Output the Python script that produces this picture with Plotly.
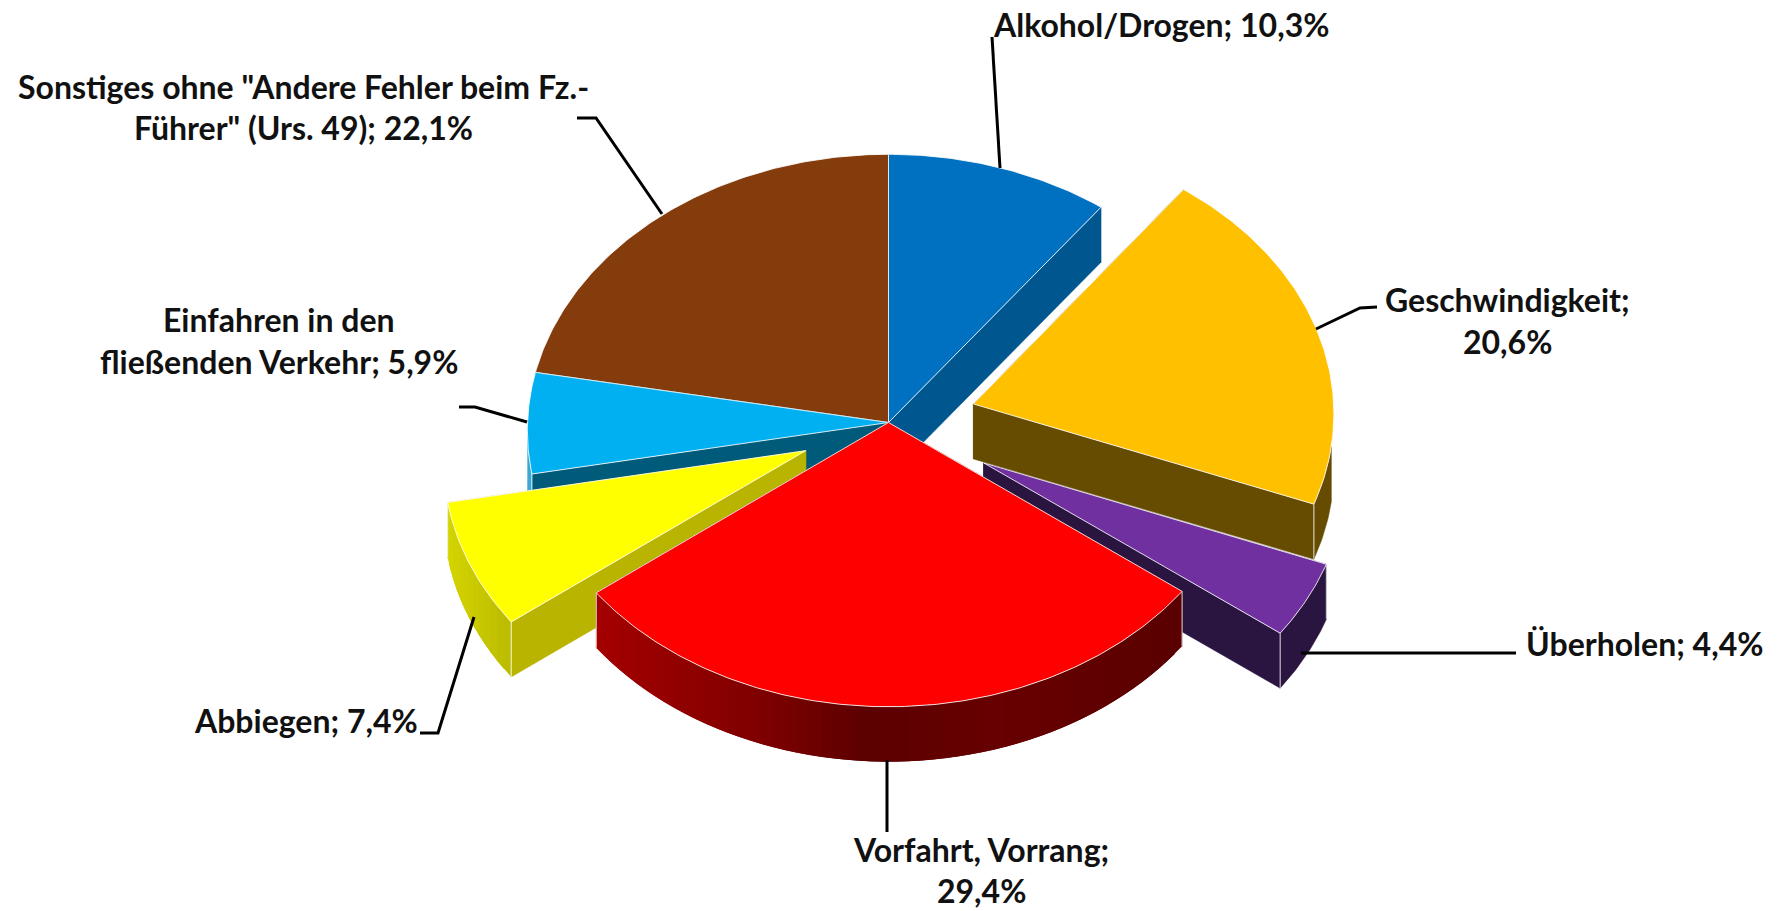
import numpy as np
import plotly.graph_objects as go

# --- data (clockwise from 12 o'clock) ---
categories = ["Alkohol/Drogen", "Geschwindigkeit", "Überholen", "Vorfahrt, Vorrang",
              "Abbiegen", "Einfahren in den fließenden Verkehr",
              'Sonstiges ohne "Andere Fehler beim Fz.-Führer" (Urs. 49)']
values = [10.3, 20.6, 4.4, 29.4, 7.4, 5.9, 22.1]
explode = [0, 0.245, 0.30, 0, 0.25, 0, 0]

# --- style ---
top_colors = ["#0070C0", "#FFC000", "#7030A0", "#FF0000", "#FFFF00", "#00B0F0", "#843C0C"]
cut_colors = ["#00568F", "#664C00", "#2A1440", "#5A0000", "#B8B400", "#005A7A", "#4E2407"]
wall_stops = [
    [(0, "#00568F")],
    [(0, "#664C00")],
    [(0, "#2A1440")],
    [(597, "#A50000"), (760, "#800000"), (870, "#5C0000"), (1000, "#680000"), (1180, "#5A0000")],
    [(450, "#D4D400"), (500, "#C0C000"), (520, "#BABA00")],
    [(0, "#3AA8D0")],
    [(0, "#4E2407")],
]
wall_limit = [0.02, -0.15, 0.02, 0.02, 0.02, 0.02, 0.02]
paint_order = [6, 0, 5, 2, 1, 4, 3]

# --- projection of the tilted disc ---
CX, CY, RX, RY, K, DEPTH = 888.5, 422.5, 361.0, 276.0, 0.029, 55.0


def project(X, Z, drop=0.0):
    s = 1.0 / (1.0 + K * np.asarray(Z))
    return CX + RX * np.asarray(X) * s, CY - RY * np.asarray(Z) * s + drop


def hex_rgb(h):
    return np.array([int(h[i:i + 2], 16) for i in (1, 3, 5)], float)


def wall_color(stops, x):
    xs = [p[0] for p in stops]
    cols = np.array([hex_rgb(p[1]) for p in stops])
    rgb = [int(np.interp(x, xs, cols[:, i])) for i in range(3)]
    return f"rgb({rgb[0]},{rgb[1]},{rgb[2]})"


share = np.array(values) / np.sum(values)
bounds = np.concatenate([[0.0], np.cumsum(share)]) * 2 * np.pi
mid = (bounds[:-1] + bounds[1:]) / 2

fig = go.Figure()
EDGE = "rgba(255,255,255,0.85)"


def poly(x, y, fill, line=None, width=1.0):
    fig.add_trace(go.Scatter(
        x=list(x), y=list(y), mode="lines", fill="toself", fillcolor=fill,
        line=dict(color=line or fill, width=width), hoverinfo="skip", showlegend=False))


for i in paint_order:
    a0, a1 = bounds[i], bounds[i + 1]
    ex, ez = explode[i] * np.sin(mid[i]), explode[i] * np.cos(mid[i])
    th = np.linspace(a0, a1, max(int((a1 - a0) * 90), 6))
    X, Z = ex + np.sin(th), ez + np.cos(th)

    # cut faces (hidden ones end up underneath the top face)
    for ang in (a0, a1):
        xa, ya = project(ex, ez)
        xb, yb = project(ex + np.sin(ang), ez + np.cos(ang))
        poly([xa, xb, xb, xa, xa],
             [ya, yb, yb + DEPTH, ya + DEPTH, ya], cut_colors[i], width=0.5)

    # outer wall on the front half
    idx = np.where(np.cos(th) < wall_limit[i])[0]
    if len(idx) > 1:
        xr, yr = project(X[idx], Z[idx])
        if len(wall_stops[i]) == 1:
            poly(np.r_[xr, xr[::-1], xr[0]], np.r_[yr, yr[::-1] + DEPTH, yr[0]],
                 wall_stops[i][0][1], width=0.5)
        else:
            # shaded in strips; each strip overlaps the next so that no seams show
            step = 3
            for j in range(0, len(xr) - 1, step):
                e = min(j + 2 * step, len(xr) - 1)
                sx, sy = xr[j:e + 1], yr[j:e + 1]
                poly(np.r_[sx, sx[::-1], sx[0]], np.r_[sy, sy[::-1] + DEPTH, sy[0]],
                     wall_color(wall_stops[i], xr[min(j + step // 2, len(xr) - 1)]), width=0)
        # white corner lines at the rim ends
        for ang in (a0, a1):
            if np.cos(ang) < 0:
                xb, yb = project(ex + np.sin(ang), ez + np.cos(ang))
                fig.add_trace(go.Scatter(
                    x=[xb, xb], y=[yb, yb + DEPTH], mode="lines",
                    line=dict(color=EDGE, width=1), hoverinfo="skip", showlegend=False))

    # top face
    xt, yt = project(np.r_[ex, X, ex], np.r_[ez, Z, ez])
    poly(xt, yt, top_colors[i], line=EDGE, width=1.0)

# --- leader lines ---
leaders = [
    [(992, 37), (1000, 168)],
    [(1316, 329), (1360, 308), (1377, 307)],
    [(1301, 653), (1516, 653)],
    [(887, 760), (887, 832)],
    [(474, 617), (438, 733), (420, 733)],
    [(527, 422), (475, 407), (459, 407)],
    [(662, 214), (596, 118), (577, 118)],
]
for pts in leaders:
    fig.add_trace(go.Scatter(x=[p[0] for p in pts], y=[p[1] for p in pts], mode="lines",
                             line=dict(color="#000000", width=3), hoverinfo="skip",
                             showlegend=False))

# --- labels ---
pct = [f"{v:.1f}".replace(".", ",") + "%" for v in values]
label_lines = [
    [f"{categories[0]}; {pct[0]}"],
    [f"{categories[1]};", pct[1]],
    [f"{categories[2]}; {pct[2]}"],
    [f"{categories[3]};", pct[3]],
    [f"{categories[4]}; {pct[4]}"],
    ["Einfahren in den", f"fließenden Verkehr; {pct[5]}"],
    ['Sonstiges ohne "Andere Fehler beim Fz.-', f'Führer" (Urs. 49); {pct[6]}'],
]
label_pos = [
    (1161, [24]), (1507, [299, 341]), (1644, [643]), (981, [849, 890]),
    (306, [720]), (279, [319, 361]), (303, [86, 127]),
]
for lines, (lx, lys) in zip(label_lines, label_pos):
    for text, ly in zip(lines, lys):
        fig.add_annotation(x=lx, y=ly, text=text, showarrow=False, xanchor="center", yanchor="middle",
                           font=dict(family="Lato", size=32, color="#111111", weight=700))

fig.update_layout(
    width=1781, height=911, margin=dict(l=0, r=0, t=0, b=0),
    paper_bgcolor="white", plot_bgcolor="white", showlegend=False,
    xaxis=dict(range=[0, 1781], visible=False, fixedrange=True),
    yaxis=dict(range=[911, 0], visible=False, fixedrange=True),
)
fig.write_html("out.html", post_script="document.body.style.margin='0';document.body.style.overflow='hidden';",
               config={"displayModeBar": False})
